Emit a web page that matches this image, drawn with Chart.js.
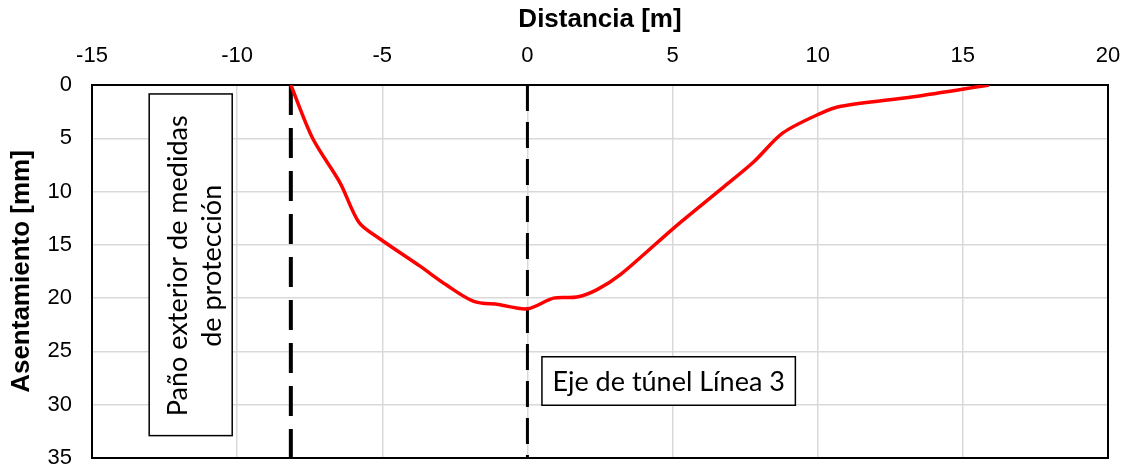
<!DOCTYPE html>
<html>
<head>
<meta charset="utf-8">
<script src="https://cdn.jsdelivr.net/npm/chart.js@4.4.1/dist/chart.umd.min.js"></script>
<style>
  html, body { margin: 0; padding: 0; background: #fff; }
  #wrap { width: 1128px; height: 470px; }
</style>
</head>
<body>
<div id="wrap"><canvas id="c" width="1128" height="470"></canvas></div>
<script>
// curva de asentamientos (distancia m, asentamiento mm)
const distancias = [-8.15, -7.4, -6.45, -5.8, -5.1, -3.7, -2.8, -1.85, -1.0, 0, 0.9, 1.7, 2.4, 3.2, 5.05, 6.7, 7.8, 8.8, 10.1, 10.8, 13.3, 15.9];
const asentamientos = [0, 5.0, 9.2, 12.9, 14.4, 17.0, 18.75, 20.3, 20.6, 21.0, 20.0, 19.9, 19.2, 17.8, 13.4, 9.7, 7.2, 4.5, 2.66, 2.0, 1.1, 0];

// lineas verticales de referencia
const xPano = -8.15;
const xEje = 0;
const yRango = [0, 35];

// textos
const tituloX = 'Distancia [m]';
const tituloY = 'Asentamiento [mm]';
const textoPano = ['Paño exterior de medidas', 'de protección'];
const textoEje = 'Eje de túnel Línea 3';

const curva = distancias.map((d, i) => ({ x: d, y: asentamientos[i] }));

// marco del area y cuadros de texto
const marcoPlugin = {
  id: 'marco',
  beforeDatasetsDraw(chart) {
    const { ctx, chartArea: a } = chart;
    ctx.save();
    ctx.strokeStyle = '#000';
    ctx.lineWidth = 2;
    ctx.strokeRect(a.left, a.top, a.right - a.left, a.bottom - a.top);
    ctx.restore();
  },
  afterDatasetsDraw(chart) {
    const { ctx } = chart;
    const sx = chart.scales.x, sy = chart.scales.y;
    ctx.save();
    // cuadro 1 (vertical)
    let x1 = sx.getPixelForValue(-13.03), x2 = sx.getPixelForValue(-10.17);
    let y1 = sy.getPixelForValue(0.84), y2 = sy.getPixelForValue(32.9);
    ctx.fillStyle = '#fff';
    ctx.fillRect(x1, y1, x2 - x1, y2 - y1);
    ctx.strokeStyle = '#000';
    ctx.lineWidth = 1.5;
    ctx.strokeRect(x1, y1, x2 - x1, y2 - y1);
    ctx.fillStyle = '#000';
    ctx.font = '27px Lato';
    ctx.textAlign = 'center';
    ctx.textBaseline = 'middle';
    ctx.translate((x1 + x2) / 2 + 4, (y1 + y2) / 2 + 1);
    ctx.rotate(-Math.PI / 2);
    ctx.fillText(textoPano[0], 0, -16);
    ctx.fillText(textoPano[1], 0, 18);
    ctx.setTransform(1, 0, 0, 1, 0, 0);
    // cuadro 2
    x1 = sx.getPixelForValue(0.5); x2 = sx.getPixelForValue(9.23);
    y1 = sy.getPixelForValue(25.5); y2 = sy.getPixelForValue(30.05);
    ctx.fillStyle = '#fff';
    ctx.fillRect(x1, y1, x2 - x1, y2 - y1);
    ctx.strokeRect(x1, y1, x2 - x1, y2 - y1);
    ctx.fillStyle = '#000';
    ctx.font = '27px Lato';
    ctx.fillText(textoEje, (x1 + x2) / 2, (y1 + y2) / 2 + 1);
    ctx.restore();
  }
};

new Chart(document.getElementById('c'), {
  type: 'line',
  data: {
    datasets: [
      {
        data: curva,
        borderColor: '#ff0000',
        borderWidth: 3.5,
        pointRadius: 0,
        tension: 0.3,
        fill: false
      },
      {
        data: yRango.map(v => ({ x: xPano, y: v })),
        borderColor: '#000',
        borderWidth: 4,
        borderDash: [30, 13],
        pointRadius: 0
      },
      {
        data: yRango.map(v => ({ x: xEje, y: v })),
        borderColor: '#000',
        borderWidth: 3,
        borderDash: [26, 11],
        pointRadius: 0
      }
    ]
  },
  options: {
    responsive: false,
    animation: false,
    layout: { padding: { left: 0, right: 20, top: 0, bottom: 12 } },
    plugins: { legend: { display: false }, tooltip: { enabled: false } },
    scales: {
      x: {
        type: 'linear',
        position: 'top',
        min: -15, max: 20,
        afterFit: s => { s.height = 85; s.paddingLeft = 0; s.paddingRight = 0; },
        ticks: { stepSize: 5, padding: 16, color: '#000', font: { family: 'Liberation Sans', size: 22 }, maxRotation: 0 },
        grid: { color: '#d9d9d9', lineWidth: 1.5, drawTicks: false },
        border: { display: false },
        title: { display: true, text: tituloX, color: '#000', padding: { top: 4, bottom: 0 }, font: { family: 'Liberation Sans', size: 26, weight: 'bold' } }
      },
      y: {
        type: 'linear',
        reverse: true,
        min: 0, max: 35,
        afterFit: s => { s.width = 92; s.paddingTop = 0; s.paddingBottom = 0; },
        ticks: { stepSize: 5, padding: 20, color: '#000', font: { family: 'Liberation Sans', size: 22 } },
        grid: { color: '#d9d9d9', lineWidth: 1.5, drawTicks: false },
        border: { display: false },
        title: { display: true, text: tituloY, color: '#000', padding: { top: 6, bottom: 0 }, font: { family: 'Liberation Sans', size: 26, weight: 'bold' } }
      }
    }
  },
  plugins: [marcoPlugin]
});
</script>
</body>
</html>
